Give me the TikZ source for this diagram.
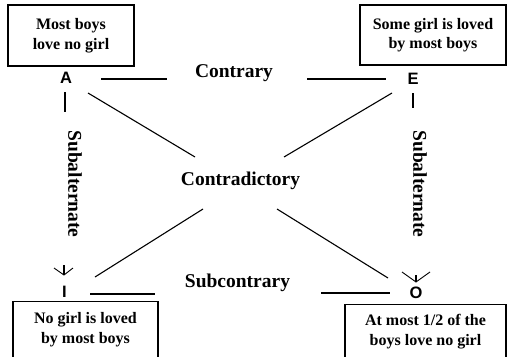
\documentclass[tikz,border=0pt]{standalone}
\usepackage{fontspec}
\usetikzlibrary{calc}
\setmainfont{Liberation Serif}
\newfontfamily\letterfont{Liberation Sans Bold}
\newcommand\cornerfont{\letterfont\fontsize{16.5}{18}\selectfont}
\begin{document}
\begin{tikzpicture}[x=1pt,y=-1pt,
  conn/.style={line width=1.1pt},
  propbox/.style={draw,line width=1.1pt,align=center,inner sep=0pt,
    font=\fontsize{16}{19.5}\selectfont\bfseries},
  rel/.style={font=\fontsize{19.5}{22}\selectfont\bfseries,inner sep=0pt},
  corner/.style={font=\cornerfont,inner sep=0pt,anchor=base}]
\useasboundingbox (0,0) rectangle (508,356);
% boxes
\node[propbox,minimum width=126pt,minimum height=61pt] (bA) at (71,35.5) {Most boys\\love no girl};
\node[propbox,minimum width=146pt,minimum height=60pt] (bE) at (433,35) {Some girl is loved\\by most boys};
\node[propbox,minimum width=145pt,anchor=north] (bI) at (85.5,301)
  {\rule{0pt}{22pt}No girl is loved\\by most boys\rule[-30pt]{0pt}{30pt}};
\node[propbox,minimum width=161pt,anchor=north] (bO) at (425.5,304)
  {\rule{0pt}{21pt}At most 1/2 of the\\ boys love no girl\rule[-30pt]{0pt}{30pt}};
% corner letters
\node[corner] (A) at (66,83.5) {A};
\node[corner] (E) at (413,84.5) {E};
\node[corner] (I) at (64.5,297) {I};
\node[corner] (O) at (416,298) {O};
% relation labels
\node[rel,anchor=base] (contrary) at (234,77) {Contrary};
\node[rel,anchor=base] (contradictory) at (240.5,185) {Contradictory};
\node[rel,anchor=base] (subcontrary) at (237.5,287) {Subcontrary};
\node[rel,rotate=-90] (subL) at (75,184) {Subalternate};
\node[rel,rotate=-90] (subR) at (420,184) {Subalternate};
% free ends of the broken connectors
\coordinate (c1) at (101,79); \coordinate (c2) at (167,79);
\coordinate (c3) at (307,79); \coordinate (c4) at (386,79);
\coordinate (d1) at (88,93);  \coordinate (d2) at (195,157);
\coordinate (d3) at (392,93); \coordinate (d4) at (284,157);
\coordinate (d5) at (203,209); \coordinate (d6) at (95,277);
\coordinate (d7) at (277,209); \coordinate (d8) at (388,278);
\coordinate (s1) at (90,294); \coordinate (s2) at (155,294);
\coordinate (s3) at (321,293); \coordinate (s4) at (390,293);
\coordinate (v1) at (65,92); \coordinate (v2) at (65,112);
\coordinate (v3) at (413,93); \coordinate (v4) at (413,108);
\coordinate (aL) at (64,265); \coordinate (tL) at (64,275);
\coordinate (aR) at (416,275); \coordinate (tR) at (416,282);
% connectors
\draw[conn] (c1) -- (c2); \draw[conn] (c3) -- (c4);
\draw[conn] (d1) -- (d2); \draw[conn] (d3) -- (d4);
\draw[conn] (d5) -- (d6); \draw[conn] (d7) -- (d8);
\draw[conn] (s1) -- (s2); \draw[conn] (s3) -- (s4);
\draw[conn] (v1) -- (v2); \draw[conn] (v3) -- (v4);
\draw[conn] (aL) -- (tL);
\draw[line width=0.9pt] ($(tL)+(-10,-7)$) -- (tL) -- ($(tL)+(9,-7)$);
\draw[conn] (aR) -- (tR);
\draw[line width=0.9pt] ($(tR)+(-14,-10)$) -- (tR) -- ($(tR)+(14,-10)$);
\end{tikzpicture}
\end{document}
